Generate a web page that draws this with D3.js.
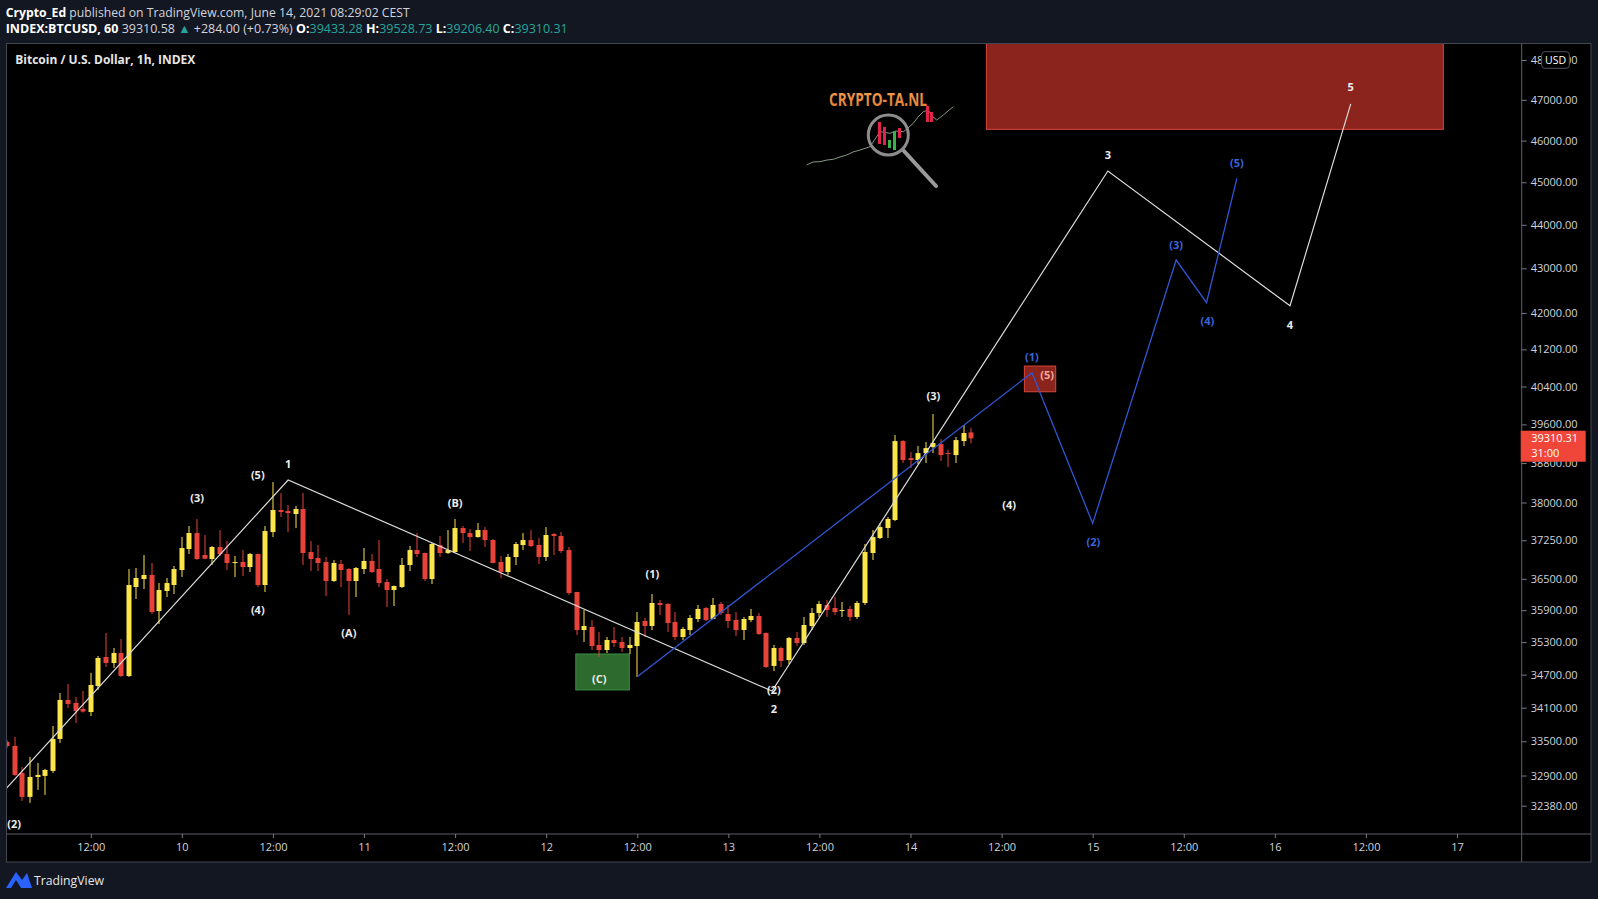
<!DOCTYPE html>
<html>
<head>
<meta charset="utf-8">
<script src="https://cdn.jsdelivr.net/npm/d3@7"></script>
<style>
  html, body { margin: 0; padding: 0; background: #131722; overflow: hidden; }
  svg { display: block; font-family: "Open Sans", sans-serif; }
  .axis text { fill: #d1d4dc; font-size: 11px; font-family: "Open Sans", sans-serif; }
  .axis line { stroke: #787b86; }
  .axis path { display: none; }
  .wave { font-size: 11px; font-weight: 700; text-anchor: middle; dominant-baseline: central; }
</style>
</head>
<body>
<svg width="1598" height="899"></svg>
<script>
// hourly candles, first one = 2021-06-09 01:00
const candleStart = Date.UTC(2021, 5, 9, 1)

const candleOpen = [33489, 33418, 32945, 32531, 32875, 32893, 32980, 33542, 34239, 34185, 34076, 34022, 34493, 35025, 34914, 35098,
    34675, 36343, 36496, 36574, 35885, 36266, 36381, 36670, 37079, 37393, 36962, 36884, 37118, 36981, 36806, 36825,
    36728, 36981, 36381, 37413, 37850, 37830, 37770, 37870, 37020, 36903, 36825, 36458, 36786, 36689, 36458, 36689,
    36845, 36689, 36439, 36285, 36343, 36767, 37059, 37001, 36496, 37157, 37001, 37020, 37492, 37393, 37314, 37452,
    37255, 36825, 36632, 36923, 37157, 37255, 37157, 36923, 37373, 37334, 37059, 36247, 35527, 35583, 35247, 35154,
    35340, 35303, 35191, 35228, 35696, 35602, 36037, 36018, 35677, 35396, 35527, 35734, 35942, 35734, 36018, 35828,
    35715, 35527, 35715, 35791, 35471, 34859, 35191, 34969, 35378, 35284, 35602, 35847, 35999, 35942, 35885, 35923,
    35772, 36037, 37001, 37295, 37492, 37651, 39253, 38903, 38862, 39005, 39129, 39191, 39005, 38964, 39253, 39433.28]
const candleHigh = [33524, 33577, 33050, 33225, 33120, 33015, 33772, 34366, 34529, 34293, 34402, 34731, 35043, 35471, 35191, 35359,
    36689, 36709, 36962, 36806, 36419, 36516, 36748, 37314, 37531, 37671, 37354, 37138, 37452, 37235, 36942, 37059,
    37001, 36990, 37531, 38413, 38190, 37950, 37930, 38190, 37235, 37157, 36923, 36864, 36864, 36709, 36728, 37098,
    36981, 37255, 36496, 36370, 36903, 37138, 37393, 37010, 37196, 37334, 37452, 37671, 37531, 37472, 37591, 37511,
    37275, 36942, 36981, 37216, 37393, 37452, 37295, 37511, 37393, 37413, 37118, 36250, 35904, 35715, 35490, 35396,
    35583, 35396, 35396, 35866, 35753, 36209, 36094, 36037, 35866, 35583, 35809, 35999, 35961, 36132, 36056, 35999,
    35866, 35772, 35923, 35847, 35480, 35247, 35210, 35396, 35490, 35772, 35942, 36075, 36094, 36151, 36056, 35980,
    36075, 37177, 37452, 37591, 37711, 39378, 39274, 39026, 39150, 39233, 39817, 39295, 39067, 39337, 39586, 39528.73]
const candleLow = [33382, 32893, 32462, 32428, 32651, 32565, 32945, 33471, 34094, 33826, 34010, 33951, 34420, 34840, 34822, 34657,
    34657, 36113, 36304, 35828, 35640, 36151, 36209, 36535, 36981, 36864, 36880, 36767, 36942, 36670, 36535, 36554,
    36632, 36343, 36247, 37314, 37711, 37413, 37492, 36767, 36651, 36651, 36170, 36439, 36343, 35809, 36151, 36593,
    36612, 36343, 35961, 35980, 36324, 36651, 36923, 36458, 36400, 36923, 36981, 37010, 37196, 37040, 37300, 37118,
    36800, 36516, 36574, 36767, 37059, 37118, 36786, 36845, 36962, 37001, 36190, 35434, 35303, 35154, 35025, 35098,
    35210, 35117, 35080, 34657, 35396, 35527, 35809, 35490, 35340, 35340, 35434, 35677, 35696, 35730, 35809, 35565,
    35415, 35340, 35677, 35434, 34822, 34767, 34840, 34895, 35228, 35247, 35527, 35772, 35772, 35809, 35772, 35696,
    35734, 35999, 36864, 37275, 37295, 37631, 38800, 38698, 38780, 38800, 39005, 38841, 38719, 38800, 39150, 39206.40]
const candleClose = [33418, 32910, 32531, 32875, 32910, 32997, 33542, 34239, 34167, 34040, 34030, 34511, 35006, 34914, 35098, 34675,
    36381, 36516, 36574, 35866, 36285, 36419, 36689, 37098, 37393, 36884, 36890, 37118, 36981, 36806, 36825, 36728,
    36981, 36381, 37432, 37850, 37810, 37790, 37870, 37001, 36884, 36806, 36458, 36806, 36670, 36458, 36709, 36845,
    36632, 36419, 36285, 36362, 36767, 37059, 36981, 36496, 37177, 37001, 37059, 37492, 37393, 37314, 37452, 37255,
    36806, 36632, 36923, 37177, 37255, 37138, 36923, 37354, 37334, 37040, 36228, 35527, 35602, 35228, 35154, 35340,
    35284, 35191, 35247, 35677, 35602, 36037, 35999, 35659, 35396, 35546, 35753, 35923, 35715, 35999, 35847, 35696,
    35527, 35734, 35791, 35452, 34840, 35191, 34951, 35378, 35284, 35621, 35847, 36018, 35904, 35866, 35904, 35772,
    36037, 37020, 37314, 37511, 37671, 39253, 38862, 38862, 39005, 39108, 39212, 38964, 38985, 39274, 39420, 39310.31]

const priceTicks = [48000, 47000, 46000, 45000, 44000, 43000, 42000, 41200, 40400, 39600, 38800,
    38000, 37250, 36500, 35900, 35300, 34700, 34100, 33500, 32900, 32380]
const timeTickLabels = ["12:00", "10", "12:00", "11", "12:00", "12", "12:00", "13",
    "12:00", "14", "12:00", "15", "12:00", "16", "12:00", "17"]

// wave counts: [hours after 2021-06-09 00:00, price]
const waveWhite = [[0.9, 32680], [38, 38454], [101.75, 34400], [146, 45268], [170, 42160], [178, 46900]]
const waveBlue = [[84, 34660], [136, 40695], [144, 37585], [155, 43190], [159, 42227], [163, 45094]]

const labelsWhite = [[1.9, 32078, "(2)"], [26, 38096, "(3)"], [34, 38570, "(5)"], [34, 35923, "(4)"], [38, 38794, "1"],
    [46, 35473, "(A)"], [60, 38010, "(B)"], [79, 34620, "(C)"], [86, 36607, "(1)"], [102, 34432, "(2)"],
    [102, 34088, "2"], [123, 40219, "(3)"], [133, 37964, "(4)"], [146, 45676, "3"], [170, 41755, "4"], [178, 47331, "5"]]
const labelsBlue = [[136, 41040, "(1)"], [144.1, 37222, "(2)"], [155, 43556, "(3)"], [159.1, 41827, "(4)"], [163, 45467, "(5)"]]
const labelsPink = [[138, 40660, "(5)"]]

// zones: [from hour, to hour, top price, bottom price]
const zonesRed = [[130, 190.2, 48600, 46275], [135, 139.13, 40839, 40288]]
const zonesGreen = [[75.9, 82.95, 35080, 34420]]

const hourDate = h => new Date(Date.UTC(2021, 5, 9) + h * 3600000)

const svg = d3.select("svg")
const paneLeft = 6.5, paneRight = 1521.7, paneTop = 43.5, paneBottom = 834, axisRight = 1591, axisBottom = 862

const x = d3.scaleUtc()
    .domain([hourDate(0), hourDate(192)])
    .range([-0.3, 1457])

const y = d3.scaleLog()
    .domain([48000, 32380])
    .range([60, 805.7])

// header
const header = svg.append("g")
const line1 = header.append("text").attr("x", 5.7).attr("y", 16.5)
    .attr("font-size", 12.5).attr("fill", "#d1d4dc")
    .attr("textLength", 404).attr("lengthAdjust", "spacingAndGlyphs")
line1.append("tspan").attr("font-weight", 700).attr("fill", "#ffffff").text("Crypto_Ed")
line1.append("tspan").text(" published on TradingView.com, June 14, 2021 08:29:02 CEST")

const line2 = header.append("text").attr("x", 5.7).attr("y", 33)
    .attr("font-size", 12.5).attr("fill", "#d1d4dc")
    .attr("textLength", 562).attr("lengthAdjust", "spacingAndGlyphs")
const teal = "#26a69a"
const seg = [["INDEX:BTCUSD, 60", "#ffffff", 700], [" 39310.58 ", "#d1d4dc", 400], ["▲", teal, 400],
    [" +284.00 (+0.73%) ", "#d1d4dc", 400], ["O:", "#ffffff", 700], ["39433.28", teal, 400],
    [" H:", "#ffffff", 700], ["39528.73", teal, 400], [" L:", "#ffffff", 700], ["39206.40", teal, 400],
    [" C:", "#ffffff", 700], ["39310.31", teal, 400]]
seg.forEach(s => {
    line2.append("tspan").attr("fill", s[1]).attr("font-weight", s[2]).text(s[0])
})

// chart frame
svg.append("rect")
    .attr("x", paneLeft).attr("y", paneTop)
    .attr("width", axisRight - paneLeft).attr("height", axisBottom - paneTop)
    .attr("fill", "#000000").attr("stroke", "#434651").attr("stroke-width", 1)
svg.append("line").attr("x1", paneRight).attr("x2", paneRight).attr("y1", paneTop).attr("y2", axisBottom)
    .attr("stroke", "#5d606b")
svg.append("line").attr("x1", paneLeft).attr("x2", axisRight).attr("y1", paneBottom).attr("y2", paneBottom)
    .attr("stroke", "#5d606b")

svg.append("clipPath").attr("id", "pane")
    .append("rect").attr("x", paneLeft + 0.5).attr("y", paneTop + 0.5)
    .attr("width", paneRight - paneLeft - 1).attr("height", paneBottom - paneTop - 1)

const plot = svg.append("g").attr("clip-path", "url(#pane)")

// zones
plot.selectAll("rect.red-zone")
    .data(zonesRed)
    .enter()
    .append("rect")
    .attr("class", "red-zone")
    .attr("x", d => x(hourDate(d[0])))
    .attr("y", d => y(d[2]))
    .attr("width", d => x(hourDate(d[1])) - x(hourDate(d[0])))
    .attr("height", d => y(d[3]) - y(d[2]))
    .attr("fill", "#8a241d")
    .attr("stroke", "#d8473b")
    .attr("stroke-width", 1)

plot.selectAll("rect.green-zone")
    .data(zonesGreen)
    .enter()
    .append("rect")
    .attr("class", "green-zone")
    .attr("x", d => x(hourDate(d[0])))
    .attr("y", d => y(d[2]))
    .attr("width", d => x(hourDate(d[1])) - x(hourDate(d[0])))
    .attr("height", d => y(d[3]) - y(d[2]))
    .attr("fill", "#2c6a2e")
    .attr("stroke", "#3f8f42")
    .attr("stroke-width", 1)

// logo watermark
const logo = plot.append("g")
const grad = svg.append("defs").append("linearGradient").attr("id", "logoGrad")
    .attr("x1", 0).attr("x2", 0).attr("y1", 0).attr("y2", 1)
grad.append("stop").attr("offset", "0%").attr("stop-color", "#f6a457")
grad.append("stop").attr("offset", "100%").attr("stop-color", "#e0782e")
logo.append("text")
    .attr("x", 829).attr("y", 105.5)
    .attr("font-size", 17).attr("font-weight", 700).attr("fill", "url(#logoGrad)")
    .attr("textLength", 98).attr("lengthAdjust", "spacingAndGlyphs")
    .text("CRYPTO-TA.NL")
logo.append("path")
    .attr("d", "M806.7,165 L813,162 L820,161.7 L827,160 L833.3,159.3 L840,157 L846.7,155 L853,152 L860,150 L870,146.7 L880,131.7 L890,133.3 L896,131 L903.3,131.7 L908,128 L913.3,123.3 L918,117 L923.3,111.7 L928.3,110 L932,116 L936.7,120 L943.3,115 L948,111 L953.3,106.7")
    .attr("fill", "none").attr("stroke", "#a7bfa5").attr("stroke-width", 0.8)
const miniCandles = [[878, 122, 22, "#e0244a"], [883, 127, 18, "#e0244a"], [888, 140, 8, "#3ab24a"],
    [893, 131, 19, "#3ab24a"], [898, 128, 10, "#e0244a"], [926, 106, 16, "#e0244a"], [930, 112, 10, "#e0244a"]]
logo.selectAll("rect")
    .data(miniCandles)
    .enter()
    .append("rect")
    .attr("x", d => d[0]).attr("y", d => d[1])
    .attr("width", 3).attr("height", d => d[2])
    .attr("fill", d => d[3])
logo.append("line")
    .attr("x1", 903).attr("y1", 150).attr("x2", 936).attr("y2", 186)
    .attr("stroke", "#9a9a9a").attr("stroke-width", 4).attr("stroke-linecap", "round")
logo.append("circle")
    .attr("cx", 888.3).attr("cy", 135).attr("r", 20)
    .attr("fill", "none").attr("stroke", "#8d8d8d").attr("stroke-width", 3)

// candles
const candles = candleOpen.map((o, i) => ({
    t: new Date(candleStart + i * 3600000),
    o: o, h: candleHigh[i], l: candleLow[i], c: candleClose[i]
}))
const upColor = "#fbe54a", downColor = "#e8433a"
const bodyW = 5

const candleGroups = plot.selectAll("g.candle")
    .data(candles)
    .enter()
    .append("g")
    .attr("class", "candle")
    .attr("fill", d => d.c >= d.o ? upColor : downColor)

candleGroups
    .append("rect")
    .attr("x", d => Math.round(x(d.t)) - 0.5)
    .attr("y", d => y(d.h))
    .attr("width", 1)
    .attr("height", d => y(d.l) - y(d.h))

candleGroups
    .append("rect")
    .attr("x", d => Math.round(x(d.t)) - bodyW / 2)
    .attr("y", d => y(Math.max(d.o, d.c)))
    .attr("width", bodyW)
    .attr("height", d => Math.max(1, y(Math.min(d.o, d.c)) - y(Math.max(d.o, d.c))))

// wave lines
const waveLine = d3.line()
    .x(d => x(hourDate(d[0])))
    .y(d => y(d[1]))

plot.append("path")
    .datum(waveWhite)
    .attr("d", waveLine)
    .attr("fill", "none").attr("stroke", "#dcdcdc").attr("stroke-width", 1.2)

plot.append("path")
    .datum(waveBlue)
    .attr("d", waveLine)
    .attr("fill", "none").attr("stroke", "#3056d3").attr("stroke-width", 1.3)

const addLabels = (data, color) => {
    plot.selectAll(null)
        .data(data)
        .enter()
        .append("text")
        .attr("class", "wave")
        .attr("x", d => x(hourDate(d[0])))
        .attr("y", d => y(d[1]))
        .attr("fill", color)
        .text(d => d[2])
}
addLabels(labelsWhite, "#ececec")
addLabels(labelsBlue, "#3a64dc")
addLabels(labelsPink, "#f5a8a0")

// chart title
svg.append("text")
    .attr("x", 15.3).attr("y", 64)
    .attr("font-size", 12).attr("font-weight", 700).attr("fill", "#e6e6e6")
    .attr("textLength", 180).attr("lengthAdjust", "spacingAndGlyphs")
    .text("Bitcoin / U.S. Dollar, 1h, INDEX")

// price axis
const yAxis = d3.axisRight(y)
    .tickValues(priceTicks)
    .tickFormat(d3.format(".2f"))
    .tickSize(5)
    .tickPadding(4)

svg.append("g")
    .attr("class", "axis")
    .attr("transform", "translate(" + paneRight + ",0)")
    .call(yAxis)

// time axis
const timeTicks = timeTickLabels.map((s, i) => hourDate(12 * (i + 1)))
const xAxis = d3.axisBottom(x)
    .tickValues(timeTicks)
    .tickFormat((d, i) => timeTickLabels[i])
    .tickSize(4)
    .tickPadding(5)

svg.append("g")
    .attr("class", "axis")
    .attr("transform", "translate(0," + paneBottom + ")")
    .call(xAxis)

// last price label
const lastClose = candleClose[candleClose.length - 1]
const priceTag = svg.append("g")
    .attr("transform", "translate(" + paneRight + "," + y(lastClose) + ")")
priceTag.append("rect")
    .attr("x", -1).attr("y", -7.6).attr("width", 65).attr("height", 31)
    .attr("fill", "#f0463a")
priceTag.append("text")
    .attr("x", 9.5).attr("y", 4)
    .attr("font-size", 11).attr("fill", "#ffffff")
    .text(d3.format(".2f")(lastClose))
priceTag.append("text")
    .attr("x", 9.5).attr("y", 19)
    .attr("font-size", 11).attr("fill", "#ffffff")
    .text("31:00")

// currency badge
svg.append("rect")
    .attr("x", 1541.7).attr("y", 51.7).attr("width", 27.6).attr("height", 16.6).attr("rx", 3)
    .attr("fill", "#000000").attr("stroke", "#50535e")
svg.append("text")
    .attr("x", 1555.5).attr("y", 64)
    .attr("text-anchor", "middle")
    .attr("font-size", 10.5).attr("fill", "#ffffff")
    .text("USD")

// footer brand
const brand = svg.append("g")
brand.append("path")
    .attr("d", "M6,888 L16,872 L22,880 L27,873 L32,888 Z")
    .attr("fill", "#2962ff")
brand.append("path")
    .attr("d", "M11,888 L16,880 L21,888 Z")
    .attr("fill", "#131722")
brand.append("text")
    .attr("x", 34).attr("y", 884.5)
    .attr("font-size", 12.5).attr("fill", "#e6e6e6")
    .attr("textLength", 70).attr("lengthAdjust", "spacingAndGlyphs")
    .text("TradingView")
</script>
</body>
</html>
